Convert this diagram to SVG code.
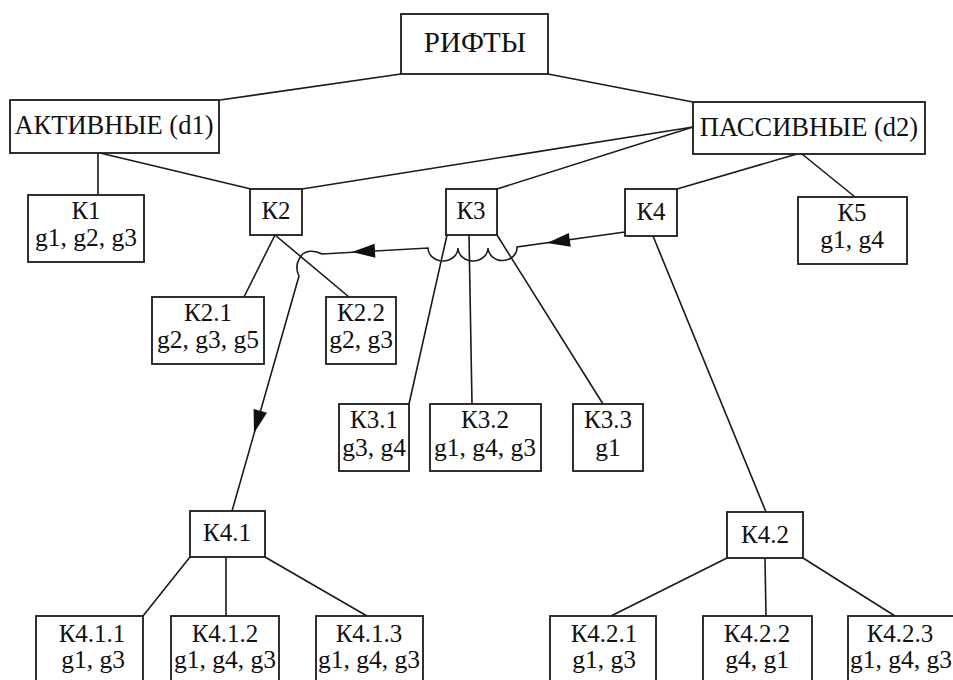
<svg xmlns="http://www.w3.org/2000/svg" xmlns:xlink="http://www.w3.org/1999/xlink" width="953" height="680" viewBox="0 0 953 680">
<style>
.box{fill:#ffffff;stroke:#1a1a1a;stroke-width:1.8}
.ln{fill:none;stroke:#1a1a1a;stroke-width:1.6}
text{font-family:'Liberation Serif','DejaVu Serif',serif;fill:#111;text-anchor:middle}
.k{font-size:25px}
.g{font-size:25.5px}
.h{font-size:26.5px}
</style>
<defs>
<path id="ah" d="M0 0 L23 -7 L23 7 Z" fill="#111"/>
</defs>
<rect width="953" height="680" fill="#ffffff"/>
<g id="connectors">
<line class="ln" x1="401" y1="74" x2="220" y2="100"/>
<line class="ln" x1="548" y1="74" x2="693" y2="102"/>
<line class="ln" x1="98" y1="153" x2="98" y2="195"/>
<line class="ln" x1="100" y1="153" x2="251" y2="189"/>
<line class="ln" x1="302" y1="189" x2="693" y2="127"/>
<line class="ln" x1="497" y1="189" x2="693" y2="127"/>
<line class="ln" x1="797" y1="154" x2="677" y2="189"/>
<line class="ln" x1="802" y1="154" x2="855" y2="197"/>
<line class="ln" x1="275" y1="235" x2="244" y2="297"/>
<line class="ln" x1="275" y1="235" x2="349" y2="297"/>
<line class="ln" x1="447" y1="235" x2="409" y2="404"/>
<line class="ln" x1="469" y1="235" x2="472" y2="404"/>
<line class="ln" x1="497" y1="235" x2="603" y2="404"/>
<line class="ln" x1="653" y1="236" x2="766" y2="512"/>
<line class="ln" x1="190" y1="557" x2="143" y2="616"/>
<line class="ln" x1="226" y1="557" x2="226" y2="616"/>
<line class="ln" x1="265" y1="557" x2="367" y2="616"/>
<line class="ln" x1="727" y1="558" x2="611" y2="616"/>
<line class="ln" x1="765" y1="558" x2="766" y2="616"/>
<line class="ln" x1="803" y1="558" x2="895" y2="616"/>
<path class="ln" d="M625 232 L517 247 A14.5 13 0 0 1 488 248 A15 13 0 0 1 458 248 A15 13 0 0 1 428 248 L322 254 C315 250 305 250 301 256 C296 263 296 270 299 276 L232 511"/>
<use xlink:href="#ah" transform="translate(547,243) rotate(-7.9)"/>
<use xlink:href="#ah" transform="translate(352,252) rotate(-3.2)"/>
<use xlink:href="#ah" transform="translate(254,433) rotate(-74.1)"/>
</g>
<g id="rifty"><rect class="box" x="401" y="14" width="147" height="60"/><text x="475" y="52" font-size="29">РИФТЫ</text></g>
<g id="active"><rect class="box" x="10" y="100" width="209" height="53"/><text class="h" x="114" y="134">АКТИВНЫЕ (d1)</text></g>
<g id="passive"><rect class="box" x="693" y="102" width="232" height="52"/><text class="h" x="809" y="136">ПАССИВНЫЕ (d2)</text></g>
<g id="k1"><rect class="box" x="28" y="195" width="116" height="67"/><text class="k" x="86" y="219">К1</text><text class="g" x="86" y="246">g1, g2, g3</text></g>
<g id="k2"><rect class="box" x="250" y="189" width="52" height="46"/><text class="k" x="276" y="219">К2</text></g>
<g id="k3"><rect class="box" x="446" y="189" width="51" height="46"/><text class="k" x="471" y="219">К3</text></g>
<g id="k4"><rect class="box" x="625" y="189" width="52" height="47"/><text class="k" x="651" y="220">К4</text></g>
<g id="k5"><rect class="box" x="798" y="197" width="109" height="67"/><text class="k" x="852" y="221">К5</text><text class="g" x="852" y="248">g1, g4</text></g>
<g id="k21"><rect class="box" x="152" y="297" width="112" height="67"/><text class="k" x="208" y="321">К2.1</text><text class="g" x="208" y="348">g2, g3, g5</text></g>
<g id="k22"><rect class="box" x="326" y="297" width="70" height="67"/><text class="k" x="361" y="321">К2.2</text><text class="g" x="361" y="348">g2, g3</text></g>
<g id="k31"><rect class="box" x="339" y="404" width="70" height="67"/><text class="k" x="374" y="428">К3.1</text><text class="g" x="374" y="456">g3, g4</text></g>
<g id="k32"><rect class="box" x="430" y="404" width="111" height="67"/><text class="k" x="485" y="428">К3.2</text><text class="g" x="485" y="456">g1, g4, g3</text></g>
<g id="k33"><rect class="box" x="573" y="404" width="70" height="67"/><text class="k" x="608" y="428">К3.3</text><text class="g" x="608" y="456">g1</text></g>
<g id="k41"><rect class="box" x="190" y="511" width="75" height="46"/><text class="k" x="227" y="541">К4.1</text></g>
<g id="k42"><rect class="box" x="727" y="512" width="76" height="46"/><text class="k" x="765" y="543">К4.2</text></g>
<g id="k411"><rect class="box" x="36" y="616" width="107" height="72"/><text class="k" x="92" y="642">К4.1.1</text><text class="g" x="93" y="668">g1, g3</text></g>
<g id="k412"><rect class="box" x="171" y="616" width="108" height="72"/><text class="k" x="225" y="642">К4.1.2</text><text class="g" x="225" y="668">g1, g4, g3</text></g>
<g id="k413"><rect class="box" x="316" y="616" width="107" height="72"/><text class="k" x="369" y="642">К4.1.3</text><text class="g" x="369" y="668">g1, g4, g3</text></g>
<g id="k421"><rect class="box" x="550" y="616" width="106" height="72"/><text class="k" x="604" y="642">К4.2.1</text><text class="g" x="604" y="668">g1, g3</text></g>
<g id="k422"><rect class="box" x="703" y="616" width="109" height="72"/><text class="k" x="757" y="642">К4.2.2</text><text class="g" x="757" y="668">g4, g1</text></g>
<g id="k423"><rect class="box" x="848" y="616" width="107" height="72"/><text class="k" x="900" y="642">К4.2.3</text><text class="g" x="901" y="668">g1, g4, g3</text></g>
</svg>
